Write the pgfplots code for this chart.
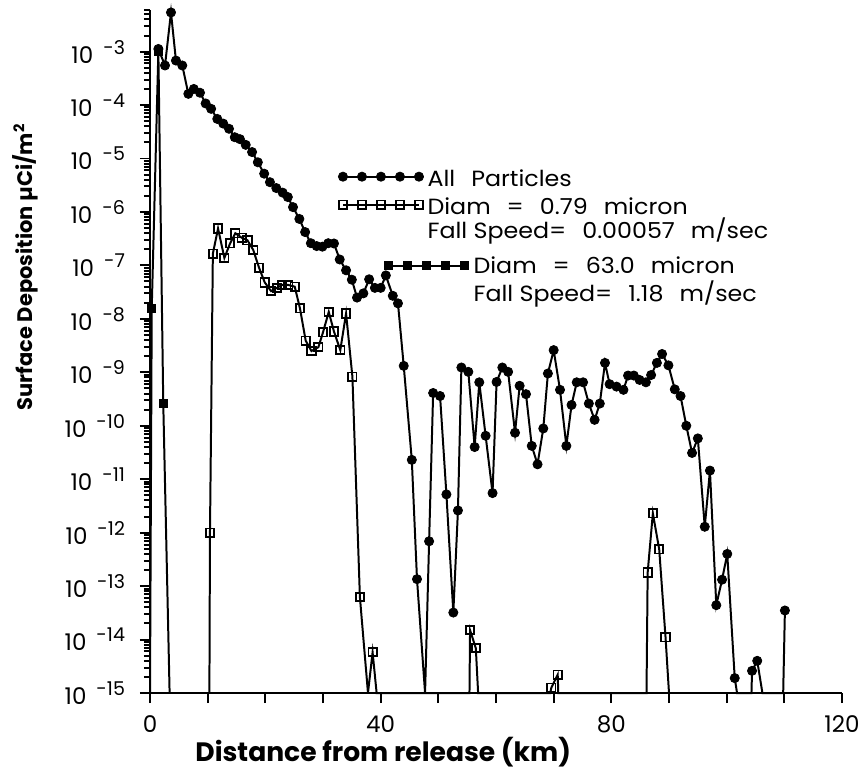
\documentclass[border=0pt]{standalone}
\usepackage{pgfplots}
\pgfplotsset{compat=1.18}
\usepackage{pgfplotstable}
\usepackage{fontspec}
\setmainfont{Poppins}
\newfontfamily\legfont{Poppins}[FakeStretch=1.08]

\pgfplotstableread{
x y
1.45 1.12e-3
2.6 5.5e-4
3.64 5.4e-3
4.5 6.8e-4
5.6 5.5e-4
6.65 1.62e-4
7.6 2.0e-4
8.67 1.7e-4
9.65 1.07e-4
10.6 8.5e-5
11.67 5.5e-5
12.7 4.5e-5
13.7 3.6e-5
14.7 2.5e-5
15.6 2.3e-5
16.6 1.8e-5
17.7 1.32e-5
18.7 8.5e-6
19.8 5.2e-6
20.8 3.6e-6
21.9 2.8e-6
23.0 2.3e-6
23.9 1.9e-6
24.8 1.23e-6
25.9 7.4e-7
26.9 4.2e-7
27.9 2.6e-7
28.9 2.3e-7
29.9 2.24e-7
30.9 2.6e-7
31.9 2.57e-7
32.9 1.29e-7
34.0 8.1e-8
35.0 5.4e-8
35.9 2.5e-8
37.0 3.0e-8
38.0 5.5e-8
39.0 3.8e-8
40.0 3.8e-8
40.9 6.5e-8
42.1 2.7e-8
43.0 1.95e-8
44.0 1.32e-9
45.4 2.3e-11
46.3 1.35e-13
47.7 1e-15
48.4 6.9e-13
49.1 4.1e-10
50.3 3.6e-10
51.4 5.2e-12
52.6 3.2e-14
53.4 2.6e-12
54.0 1.23e-9
55.2 1.02e-9
56.3 4.0e-11
57.1 6.5e-10
58.2 6.5e-11
59.4 5.5e-12
60.1 6.6e-10
61.1 1.23e-9
62.1 1.02e-9
63.3 7.4e-11
64.1 5.6e-10
65.2 3.9e-10
66.2 4.2e-11
67.2 1.9e-11
68.2 8.9e-11
69.0 9.5e-10
70.0 2.6e-9
71.1 4.7e-10
72.2 4.2e-11
73.1 2.45e-10
74.0 6.5e-10
75.1 6.5e-10
76.1 2.6e-10
77.1 1.29e-10
78.0 2.6e-10
78.9 1.5e-9
79.7 6.0e-10
80.9 5.4e-10
82.1 4.7e-10
82.9 8.7e-10
83.9 8.7e-10
84.9 7.2e-10
86.0 6.5e-10
86.9 8.9e-10
87.9 1.5e-9
88.8 2.2e-9
89.9 1.35e-9
91.0 4.8e-10
92.0 3.6e-10
93.0 1.0e-10
94.0 3.1e-11
95.0 5.8e-11
96.2 1.29e-12
97.1 1.45e-11
98.2 4.4e-14
99.2 1.32e-13
100.1 4.0e-13
101.4 1.9e-15
101.8 1e-15
104.3 1e-15
104.4 2.6e-15
105.3 4.0e-15
106.2 1e-15
109.8 1e-15
110.1 3.5e-14
}\allp

\pgfplotstableread{
x y
10.3 1e-15
10.4 1.0e-12
10.9 1.66e-7
11.8 4.9e-7
12.9 1.38e-7
13.9 2.6e-7
14.8 4.0e-7
15.9 3.3e-7
16.9 2.95e-7
17.9 1.95e-7
18.9 9.1e-8
19.9 4.8e-8
21.0 3.3e-8
22.0 3.8e-8
22.9 4.3e-8
24.0 4.3e-8
25.1 4.0e-8
26.0 1.58e-8
27.0 3.9e-9
28.0 2.5e-9
29.2 2.95e-9
30.0 5.6e-9
31.0 1.35e-8
31.9 5.8e-9
33.0 2.6e-9
34.0 1.26e-8
35.1 8.3e-10
36.4 6.2e-14
37.8 1e-15
38.6 5.8e-15
39.3 1e-15
55.4 1e-15
55.5 1.5e-14
56.5 6.9e-15
56.9 1e-15
69.4 1e-15
69.6 1.26e-15
70.7 2.2e-15
70.8 1e-15
86.1 1e-15
86.3 1.8e-13
87.2 2.3e-12
88.3 4.9e-13
89.4 1.1e-14
90.0 1e-15
}\fine

\pgfplotstableread{
x y
0.0 1e-15
0.3 1.55e-8
1.45 1.0e-3
2.3 2.6e-10
3.4 1e-15
}\coarse

\newcommand{\ylab}[1]{10\hspace{5bp}\raisebox{4.5bp}{\fontsize{9.5bp}{10bp}\selectfont -#1}}
\newcommand{\ws}{\hspace{8bp}}
\newcommand{\st}[1]{\rule[-3bp]{0pt}{#1}}

\pgfplotsset{
  legsample/.style={legend image code/.code={
    \draw[black,line width=1pt] (0bp,#1) -- (38bp,#1);
    \draw[##1] plot coordinates {(0bp,#1) (9.5bp,#1) (19bp,#1) (28.5bp,#1) (38bp,#1)};}},
  legsampleshift/.style={legend image code/.code={
    \begin{pgfinterruptboundingbox}
    \draw[black,line width=1pt] (22.5bp,#1) -- (60.5bp,#1);
    \draw[##1] plot coordinates {(22.5bp,#1) (32bp,#1) (41.5bp,#1) (51bp,#1) (60.5bp,#1)};
    \end{pgfinterruptboundingbox}
    \path (0bp,#1) (38bp,#1);}},
}

\begin{document}
\begin{tikzpicture}
\begin{axis}[
  name=ax,
  scale only axis, width=346bp, height=341.5bp,
  ymode=log, xmin=0, xmax=120, ymin=1e-15, ymax=6e-3,
  axis lines*=left,
  axis line style={line width=1.2pt},
  tick align=outside,
  tick style={black, line width=1pt},
  major tick length=5bp, minor tick length=3bp,
  xtick={0,10,20,30,40,50,60,70,80,90,100,110,120},
  xticklabels={0,,,,40,,,,80,,,,120},
  ytick={1e-15,1e-14,1e-13,1e-12,1e-11,1e-10,1e-9,1e-8,1e-7,1e-6,1e-5,1e-4,1e-3},
  minor ytick={2e-15,3e-15,4e-15,5e-15,6e-15,7e-15,8e-15,9e-15,
    2e-14,3e-14,4e-14,5e-14,6e-14,7e-14,8e-14,9e-14,
    2e-13,3e-13,4e-13,5e-13,6e-13,7e-13,8e-13,9e-13,
    2e-12,3e-12,4e-12,5e-12,6e-12,7e-12,8e-12,9e-12,
    2e-11,3e-11,4e-11,5e-11,6e-11,7e-11,8e-11,9e-11,
    2e-10,3e-10,4e-10,5e-10,6e-10,7e-10,8e-10,9e-10,
    2e-9,3e-9,4e-9,5e-9,6e-9,7e-9,8e-9,9e-9,
    2e-8,3e-8,4e-8,5e-8,6e-8,7e-8,8e-8,9e-8,
    2e-7,3e-7,4e-7,5e-7,6e-7,7e-7,8e-7,9e-7,
    2e-6,3e-6,4e-6,5e-6,6e-6,7e-6,8e-6,9e-6,
    2e-5,3e-5,4e-5,5e-5,6e-5,7e-5,8e-5,9e-5,
    2e-4,3e-4,4e-4,5e-4,6e-4,7e-4,8e-4,9e-4,
    2e-3,3e-3,4e-3,5e-3,6e-3},
  yticklabels={\ylab{15},\ylab{14},\ylab{13},\ylab{12},\ylab{11},\ylab{10},\ylab{9},\ylab{8},\ylab{7},\ylab{6},\ylab{5},\ylab{4},\ylab{3}},
  ticklabel style={font=\fontsize{11.5bp}{14bp}\selectfont},
  xticklabel style={yshift=-3bp},
  yticklabel style={xshift=-4bp},
  xlabel={Distance from release (km)},
  ylabel={Surface Deposition µCi/m\textsuperscript{2}},
  x label style={at={(axis description cs:0.337,0)}, anchor=base, yshift=-34bp, font=\fontsize{13.3bp}{16bp}\selectfont\bfseries},
  y label style={at={([xshift=-62.5bp]axis description cs:0,0.624)}, anchor=center, font=\fontsize{10.5bp}{12bp}\selectfont\bfseries},
  clip=false,
  legend style={at={(axis cs:32.6,7.0e-6)}, anchor=north west, draw=none, fill=none,
    inner sep=0pt, row sep=0pt, column sep=0bp,
    nodes={inner sep=0pt},
    font=\legfont\fontsize{11bp}{13.5bp}\selectfont},
  legend cell align=left,
]
\addplot[black, line width=1pt, forget plot] table {\allp};
\addplot[black, line width=1pt, forget plot] table {\fine};
\addplot[black, line width=1pt, forget plot] table {\coarse};

\addplot[only marks, mark=*, mark size=2.3pt, black, legsample={0.75bp},
  restrict y to domain=-34.4:10] table {\allp};
\addlegendentry{\st{12.5bp}\hspace*{2bp}All\ws Particles}
\addplot[only marks, mark=square, mark size=2.1pt, black, line width=0.9pt,
  mark options={fill=white}, legsample={-0.75bp},
  restrict y to domain=-34.4:10] table {\fine};
\addlegendentry{\st{15.5bp}\hspace*{2bp}Diam\ws=\ws0.79\ws micron}
\addlegendimage{empty legend}
\addlegendentry{\st{13.5bp}\hspace*{2bp}Fall Speed=\ws0.00057\ws m/sec}
\addplot[only marks, mark=square*, mark size=2pt, black, legsampleshift={-3.5bp},
  restrict y to domain=-34.4:10] table {\coarse};
\addlegendentry{\st{19bp}\hspace*{25bp}Diam\ws=\ws63.0\ws micron}
\addlegendimage{empty legend}
\addlegendentry{\st{15.5bp}\hspace*{25bp}Fall Speed=\ws1.18\ws m/sec}
\end{axis}
\pgfresetboundingbox
\useasboundingbox ([shift={(-75bp,-38bp)}]ax.south west) rectangle ([shift={(12bp,5bp)}]ax.north east);
\end{tikzpicture}
\end{document}
